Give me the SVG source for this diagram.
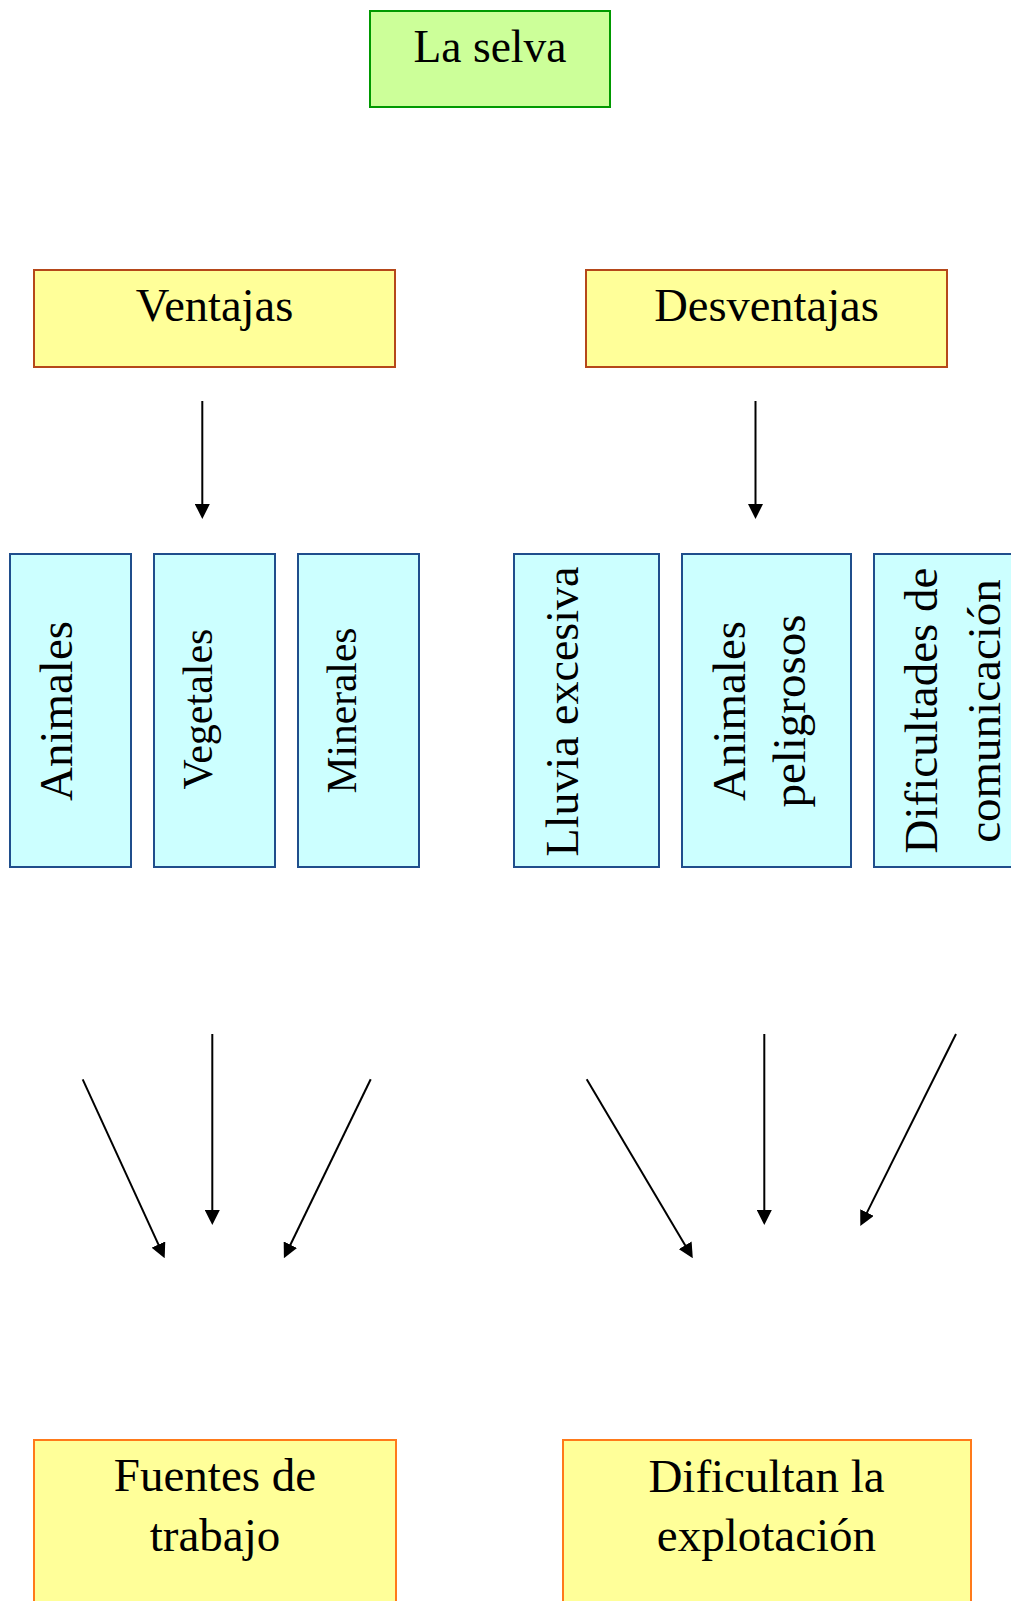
<svg xmlns="http://www.w3.org/2000/svg" width="1011" height="1601" viewBox="0 0 1011 1601">
<style>
  text { font-family: "Liberation Serif", "DejaVu Serif", serif; font-size: 47px; fill: #000; text-anchor: middle; }
  .green { fill: #CCFF99; stroke: #009900; stroke-width: 2; }
  .head { fill: #FFFF99; stroke: #B5481A; stroke-width: 2; }
  .cyan { fill: #CCFFFF; stroke: #1F4E8C; stroke-width: 2; }
  .res { fill: #FFFF99; stroke: #FF7A1A; stroke-width: 2; }
  .conn line { stroke: #000; stroke-width: 2; marker-end: url(#arr); }
</style>
<defs>
  <marker id="arr" markerUnits="userSpaceOnUse" markerWidth="15" markerHeight="15" refX="4" refY="7.5" orient="auto">
    <path d="M0,0 L15,7.5 L0,15 z" fill="#000"/>
  </marker>
</defs>
<rect width="1011" height="1601" fill="#fff"/>

<g id="la-selva"><rect class="green" x="370" y="11" width="240" height="96"/><text x="490" y="62" style="font-size:45.5px">La selva</text></g>
<g id="ventajas"><rect class="head" x="34" y="270" width="361" height="97"/><text x="214.5" y="321" style="font-size:46.5px">Ventajas</text></g>
<g id="desventajas"><rect class="head" x="586" y="270" width="361" height="97"/><text x="766.5" y="321" style="font-size:46.5px">Desventajas</text></g>

<g id="animales"><rect class="cyan" x="10" y="554" width="121" height="313"/><text transform="translate(72,711) rotate(-90)">Animales</text></g>
<g id="vegetales"><rect class="cyan" x="154" y="554" width="121" height="313"/><text transform="translate(212,709) rotate(-90)" style="font-size:42px">Vegetales</text></g>
<g id="minerales"><rect class="cyan" x="298" y="554" width="121" height="313"/><text transform="translate(356,710.5) rotate(-90)" style="font-size:41.5px">Minerales</text></g>

<g id="lluvia"><rect class="cyan" x="514" y="554" width="145" height="313"/><text transform="translate(578,711.5) rotate(-90)" style="font-size:46px">Lluvia excesiva</text></g>
<g id="animales-peligrosos"><rect class="cyan" x="682" y="554" width="169" height="313"/><text transform="translate(745,711) rotate(-90)">Animales</text><text transform="translate(805,711) rotate(-90)">peligrosos</text></g>
<g id="dificultades"><rect class="cyan" x="874" y="554" width="169" height="313"/><text transform="translate(937,710.5) rotate(-90)">Dificultades de</text><text transform="translate(1000,711) rotate(-90)">comunicación</text></g>

<g id="fuentes"><rect class="res" x="34" y="1440" width="362" height="200"/><text x="215" y="1491">Fuentes de</text><text x="215" y="1551">trabajo</text></g>
<g id="dificultan"><rect class="res" x="563" y="1440" width="408" height="200"/><text x="766.5" y="1491.5">Dificultan la</text><text x="766.5" y="1550.5">explotación</text></g>

<g id="connectors" class="conn">
  <line x1="202.3" y1="401" x2="202.3" y2="508"/>
  <line x1="755.5" y1="401" x2="755.5" y2="508"/>
  <line x1="82.7" y1="1079.3" x2="160.1" y2="1248.2"/>
  <line x1="212.3" y1="1034" x2="212.3" y2="1214"/>
  <line x1="370.7" y1="1079.3" x2="288.7" y2="1248.3"/>
  <line x1="586.7" y1="1079.3" x2="687.2" y2="1248.7"/>
  <line x1="764.3" y1="1034" x2="764.3" y2="1214"/>
  <line x1="956" y1="1034" x2="865.2" y2="1216.1"/>
</g>
</svg>
